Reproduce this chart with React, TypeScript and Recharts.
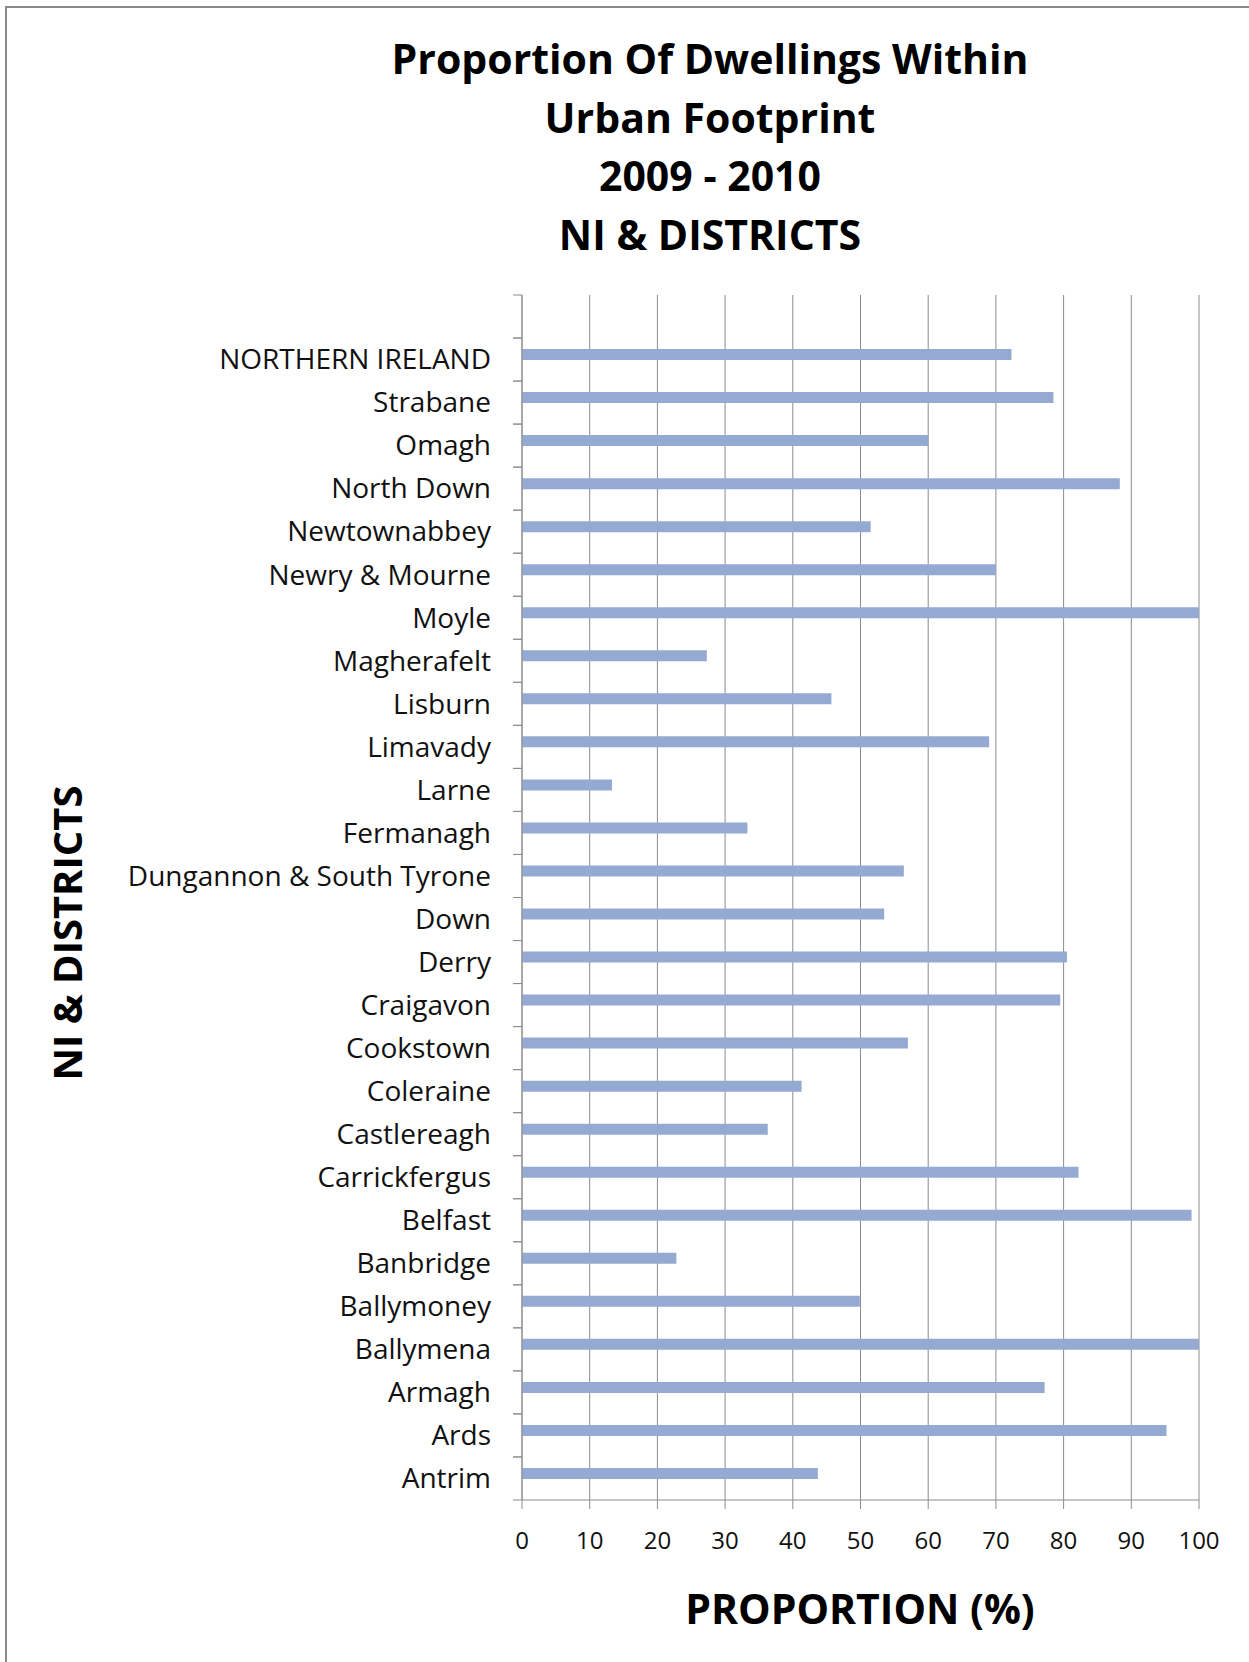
import React from "react";
import { BarChart, Bar, XAxis, YAxis, CartesianGrid } from "recharts";

// top-to-bottom order as drawn; the first entry is the empty slot above NI
const districts = [
  "",
  "NORTHERN IRELAND",
  "Strabane",
  "Omagh",
  "North Down",
  "Newtownabbey",
  "Newry & Mourne",
  "Moyle",
  "Magherafelt",
  "Lisburn",
  "Limavady",
  "Larne",
  "Fermanagh",
  "Dungannon & South Tyrone",
  "Down",
  "Derry",
  "Craigavon",
  "Cookstown",
  "Coleraine",
  "Castlereagh",
  "Carrickfergus",
  "Belfast",
  "Banbridge",
  "Ballymoney",
  "Ballymena",
  "Armagh",
  "Ards",
  "Antrim",
];

const proportion: (number | null)[] = [
  null, 72.3, 78.5, 60.0, 88.3, 51.5, 70.0, 100, 27.3, 45.7, 69.0, 13.3, 33.3,
  56.4, 53.5, 80.5, 79.5, 57.0, 41.3, 36.3, 82.2, 98.9, 22.8, 49.9, 100, 77.2,
  95.2, 43.7,
];

const xTicks = [0, 10, 20, 30, 40, 50, 60, 70, 80, 90, 100];

const data = districts.map((name, i) => ({
  name,
  proportion: proportion[i],
  spare: null,
}));

const W = 1249;
const H = 1662;
const PLOT_LEFT = 522;
const PLOT_RIGHT = 1199;
const PLOT_TOP = 295;
const PLOT_BOTTOM = 1500;
const BAND = (PLOT_BOTTOM - PLOT_TOP) / districts.length;
const GREY = "#8c8c8c";
const FONT = "'Open Sans', sans-serif";

const DistrictTick = (props: any) => {
  const { x, y, payload } = props;
  const axisX = PLOT_LEFT;
  return (
    <g>
      <line x1={axisX - 9} x2={axisX} y1={y - BAND / 2} y2={y - BAND / 2} stroke={GREY} />
      <line x1={axisX - 9} x2={axisX} y1={y + BAND / 2} y2={y + BAND / 2} stroke={GREY} />
      <text
        x={x}
        y={y}
        dy="0.35em"
        textAnchor="end"
        fontFamily={FONT}
        fontSize={28}
        fill="#111"
      >
        {payload.value}
      </text>
    </g>
  );
};

const titleLines = [
  "Proportion Of Dwellings Within",
  "Urban Footprint",
  "2009 - 2010",
  "NI & DISTRICTS",
];

export default function App() {
  return (
    <div
      style={{
        position: "absolute",
        left: 0,
        top: 0,
        width: W,
        height: H,
        overflow: "hidden",
        background: "#fff",
        fontFamily: FONT,
      }}
    >
      <div
        style={{
          position: "absolute",
          left: 5,
          top: 6,
          width: W + 40,
          height: H + 40,
          border: "2px solid #8a8a8a",
        }}
      />
      {titleLines.map((t, i) => (
        <div
          key={t}
          style={{
            position: "absolute",
            left: 310,
            width: 800,
            top: 58 + i * 58.5 - 30,
            height: 60,
            lineHeight: "60px",
            textAlign: "center",
            fontWeight: 700,
            fontSize: 41,
            color: "#000",
          }}
        >
          {t}
        </div>
      ))}
      <div
        style={{
          position: "absolute",
          left: 67 - 200,
          top: 933 - 30,
          width: 400,
          height: 60,
          lineHeight: "60px",
          textAlign: "center",
          fontWeight: 700,
          fontSize: 40,
          transform: "rotate(-90deg)",
          color: "#000",
        }}
      >
        NI &amp; DISTRICTS
      </div>
      <div
        style={{
          position: "absolute",
          left: 660,
          width: 400,
          top: 1608 - 30,
          height: 60,
          lineHeight: "60px",
          textAlign: "center",
          fontWeight: 700,
          fontSize: 41,
          color: "#000",
        }}
      >
        PROPORTION (%)
      </div>
      <div style={{ position: "absolute", left: 0, top: 0 }}>
        <BarChart
          width={W}
          height={H}
          data={data}
          layout="vertical"
          barGap={0}
          barSize={11}
          margin={{
            top: PLOT_TOP,
            left: 0,
            right: W - PLOT_RIGHT,
            bottom: H - PLOT_BOTTOM - 60,
          }}
        >
          <CartesianGrid horizontal={false} stroke={GREY} strokeWidth={1} />
          <XAxis
            type="number"
            domain={[0, 100]}
            ticks={xTicks}
            height={60}
            tickSize={9}
            tickMargin={23}
            axisLine={{ stroke: GREY }}
            tickLine={{ stroke: GREY }}
            tick={{ fontSize: 24, fill: "#111", fontFamily: FONT }}
          />
          <YAxis
            type="category"
            dataKey="name"
            width={PLOT_LEFT}
            interval={0}
            tickSize={9}
            tickMargin={22}
            tickLine={false}
            axisLine={{ stroke: GREY }}
            tick={<DistrictTick />}
          />
          <Bar dataKey="proportion" fill="#95aad2" isAnimationActive={false} />
          <Bar dataKey="spare" fill="#c0504d" isAnimationActive={false} />
        </BarChart>
      </div>
    </div>
  );
}
